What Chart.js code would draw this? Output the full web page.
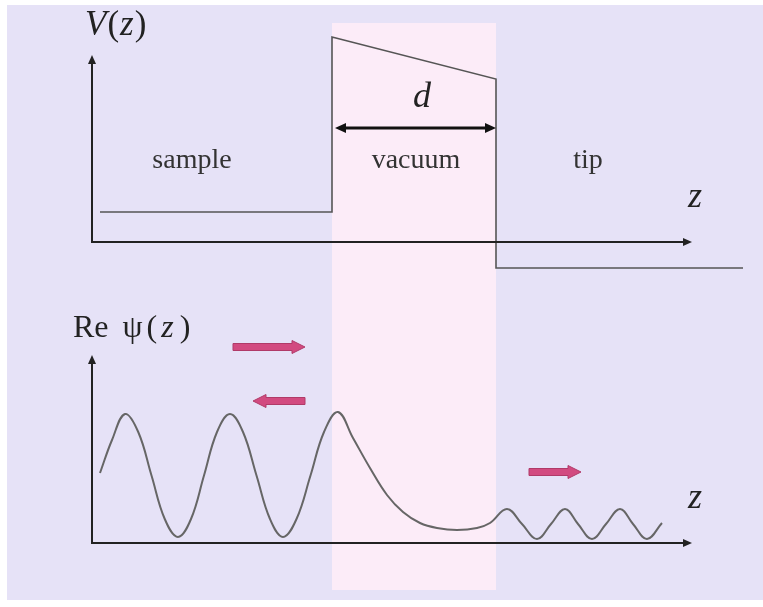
<!DOCTYPE html>
<html>
<head>
<meta charset="utf-8">
<script src="https://cdn.jsdelivr.net/npm/chart.js@4/dist/chart.umd.min.js"></script>
<style>
  html, body { margin: 0; padding: 0; background: #ffffff; }
  #wrap { position: relative; width: 763px; height: 607px; overflow: hidden; }
  #bg { position: absolute; left: 7px; top: 5px; width: 756px; height: 595px; background: #e6e2f7; }
  #diagram { position: absolute; left: 0; top: 0; }
</style>
</head>
<body>
<div id="wrap">
  <div id="bg"></div>
  <canvas id="diagram" width="763" height="607"></canvas>
</div>
<script>
// potencial V(z): muestra, barrera de vacio, punta
var vZ   = [0.2, 6, 6, 10.1, 10.1, 16.275];
var vVal = [3, 3, 20.5, 16.3, -2.6, -2.6];

// parte real de la funcion de onda
var psiZ   = [0.2, 0.5, 0.825, 1.156, 1.4875, 1.819, 2.15, 2.475, 2.8, 3.125, 3.45,
              3.775, 4.1125, 4.45, 4.775, 5.1125, 5.4625, 5.8, 6.15,
              6.525, 6.95, 7.375, 7.775, 8.2, 8.625, 9.125, 9.625, 9.95,
              10.375, 10.75, 11.125, 11.475, 11.825, 12.15, 12.5, 12.85,
              13.2, 13.525, 13.875, 14.25];
var psiVal = [7.0, 10.3, 12.9, 11.1, 6.75, 2.4, 0.6, 2.4, 6.75, 11.1, 12.9,
              11.1, 6.75, 2.4, 0.6, 2.4, 6.75, 11.1, 13.1,
              10.5, 7.5, 4.8, 3.1, 2.0, 1.5, 1.3, 1.5, 2.0,
              3.4, 1.9, 0.4, 1.9, 3.4, 1.9, 0.4, 1.9,
              3.4, 1.9, 0.4, 2.0];

// zona de vacio (ancho d)
var gapStart = 6;
var gapEnd = 10.1;
var zAxisEnd = 15;
var vAxisTop = 18.7;
var psiAxisTop = 18.8;

// flechas rosas: [z inicio, z fin, psi]
var waveArrows = [[3.525, 5.325, 19.6], [5.325, 4.025, 14.2], [10.925, 12.225, 7.1]];

function toPoints(xs, ys) {
    return xs.map(function (x, i) { return { x: x, y: ys[i] }; });
}

function arrowHead(ctx, x, y, dir, len, half) {
    ctx.beginPath();
    if (dir === 'up') {
        ctx.moveTo(x, y); ctx.lineTo(x - half, y + len); ctx.lineTo(x + half, y + len);
    } else if (dir === 'right') {
        ctx.moveTo(x, y); ctx.lineTo(x - len, y - half); ctx.lineTo(x - len, y + half);
    } else {
        ctx.moveTo(x, y); ctx.lineTo(x + len, y - half); ctx.lineTo(x + len, y + half);
    }
    ctx.closePath();
    ctx.fill();
}

// partes: [texto, cursiva, espacio antes]
function richText(ctx, parts, x, y, size, align) {
    var fam = '"Liberation Serif", "Times New Roman", serif';
    var total = 0;
    parts.forEach(function (p) {
        ctx.font = (p[1] ? 'italic ' : '') + size + 'px ' + fam;
        total += ctx.measureText(p[0]).width + (p[2] || 0);
    });
    var cx = align === 'center' ? x - total / 2 : x;
    ctx.textAlign = 'left';
    ctx.textBaseline = 'alphabetic';
    parts.forEach(function (p) {
        ctx.font = (p[1] ? 'italic ' : '') + size + 'px ' + fam;
        cx += p[2] || 0;
        ctx.fillText(p[0], cx, y);
        cx += ctx.measureText(p[0]).width;
    });
}

var bandPlugin = {
    id: 'band',
    beforeDatasetsDraw: function (chart) {
        var ctx = chart.ctx, x = chart.scales.x, yv = chart.scales.yV, yp = chart.scales.yPsi;
        var left = x.getPixelForValue(gapStart), right = x.getPixelForValue(gapEnd);
        var top = yv.getPixelForValue(21.9), bottom = yp.getPixelForValue(-4.7);
        ctx.save();
        ctx.fillStyle = '#fcecf8';
        ctx.fillRect(left, top, right - left, bottom - top);
        ctx.restore();
    }
};

var axesPlugin = {
    id: 'ejes',
    afterDatasetsDraw: function (chart) {
        var ctx = chart.ctx, x = chart.scales.x, yv = chart.scales.yV, yp = chart.scales.yPsi;
        var x0 = x.getPixelForValue(0), x1 = x.getPixelForValue(zAxisEnd);
        ctx.save();
        ctx.strokeStyle = '#222';
        ctx.fillStyle = '#222';
        ctx.lineWidth = 2;
        [[yv, vAxisTop], [yp, psiAxisTop]].forEach(function (a) {
            var y0 = a[0].getPixelForValue(0), yt = a[0].getPixelForValue(a[1]);
            ctx.beginPath();
            ctx.moveTo(x0, yt + 6); ctx.lineTo(x0, y0); ctx.lineTo(x1 - 6, y0);
            ctx.stroke();
            arrowHead(ctx, x0, yt, 'up', 9, 4);
            arrowHead(ctx, x1, y0, 'right', 9, 4);
        });

        // flecha doble de ancho d
        var ya = yv.getPixelForValue(11.4);
        var xa = x.getPixelForValue(gapStart + 0.075), xb = x.getPixelForValue(gapEnd);
        ctx.fillStyle = '#111';
        ctx.strokeStyle = '#111';
        ctx.lineWidth = 3;
        ctx.beginPath();
        ctx.moveTo(xa + 8, ya); ctx.lineTo(xb - 8, ya);
        ctx.stroke();
        arrowHead(ctx, xa, ya, 'left', 11, 5);
        arrowHead(ctx, xb, ya, 'right', 11, 5);

        // flechas rosas de la onda
        ctx.fillStyle = '#d24a80';
        ctx.strokeStyle = '#b03a68';
        ctx.lineWidth = 1;
        waveArrows.forEach(function (w) {
            var s = x.getPixelForValue(w[0]), e = x.getPixelForValue(w[1]), y = yp.getPixelForValue(w[2]);
            var dir = e > s ? 1 : -1;
            var hl = 13, sh = 3.5, hh = 6.5;
            ctx.beginPath();
            ctx.moveTo(s, y - sh);
            ctx.lineTo(e - dir * hl, y - sh);
            ctx.lineTo(e - dir * hl, y - hh);
            ctx.lineTo(e, y);
            ctx.lineTo(e - dir * hl, y + hh);
            ctx.lineTo(e - dir * hl, y + sh);
            ctx.lineTo(s, y + sh);
            ctx.closePath();
            ctx.fill();
            ctx.stroke();
        });

        // textos
        ctx.fillStyle = '#222';
        richText(ctx, [['V', true], ['(', false, 1], ['z', true, 1], [')', false, 1]], x.getPixelForValue(-0.175), yv.getPixelForValue(20.7), 35, 'left');
        richText(ctx, [['Re', false], ['ψ', false, 14], ['(', false, 4], ['z', true, 4], [')', false, 6]], x.getPixelForValue(-0.475), yp.getPixelForValue(20.6), 32, 'left');
        ctx.fillStyle = '#333';
        richText(ctx, [['sample', false]], x.getPixelForValue(2.5), yv.getPixelForValue(7.4), 28, 'center');
        richText(ctx, [['vacuum', false]], x.getPixelForValue(8.1), yv.getPixelForValue(7.4), 28, 'center');
        richText(ctx, [['tip', false]], x.getPixelForValue(12.4), yv.getPixelForValue(7.4), 28, 'center');
        ctx.fillStyle = '#222';
        richText(ctx, [['d', true]], x.getPixelForValue(8.25), yv.getPixelForValue(13.5), 36, 'center');
        richText(ctx, [['z', true]], x.getPixelForValue(15.075), yv.getPixelForValue(3.5), 36, 'center');
        richText(ctx, [['z', true]], x.getPixelForValue(15.075), yp.getPixelForValue(3.5), 36, 'center');
        ctx.restore();
    }
};

new Chart(document.getElementById('diagram'), {
    type: 'scatter',
    data: {
        datasets: [{
            label: 'V(z)',
            data: toPoints(vZ, vVal),
            yAxisID: 'yV',
            showLine: true,
            borderColor: '#555',
            borderWidth: 1.6,
            pointRadius: 0,
            tension: 0
        }, {
            label: 'Re psi(z)',
            data: toPoints(psiZ, psiVal),
            yAxisID: 'yPsi',
            showLine: true,
            borderColor: '#666',
            borderWidth: 2,
            pointRadius: 0,
            tension: 0.4
        }]
    },
    options: {
        responsive: false,
        animation: false,
        layout: { padding: 0 },
        plugins: { legend: { display: false }, tooltip: { enabled: false } },
        scales: {
            x: { type: 'linear', display: false, min: -2.3, max: 16.775 },
            yV: { type: 'linear', display: false, min: -36.5, max: 24.2 },
            yPsi: { type: 'linear', display: false, min: -6.4, max: 54.3 }
        }
    },
    plugins: [bandPlugin, axesPlugin]
});
</script>
</body>
</html>
